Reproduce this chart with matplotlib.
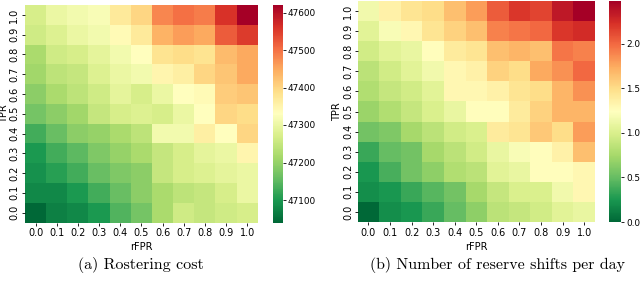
import numpy as np
import matplotlib
matplotlib.use("Agg")
import matplotlib.pyplot as plt
import seaborn as sns

rfpr = ["0.0", "0.1", "0.2", "0.3", "0.4", "0.5", "0.6", "0.7", "0.8", "0.9", "1.0"]
tpr = ["1.0", "0.9", "0.8", "0.7", "0.6", "0.5", "0.4", "0.3", "0.2", "0.1", "0.0"]

# rows: TPR 1.0 (top) -> 0.0 (bottom); cols: rFPR 0.0 -> 1.0
cost = [
    [47270, 47300, 47310, 47320, 47370, 47400, 47480, 47500, 47490, 47560, 47620],
    [47260, 47280, 47300, 47310, 47340, 47370, 47440, 47460, 47450, 47520, 47550],
    [47220, 47260, 47270, 47290, 47310, 47330, 47380, 47390, 47380, 47430, 47450],
    [47210, 47240, 47250, 47280, 47300, 47310, 47350, 47360, 47400, 47420, 47450],
    [47190, 47220, 47240, 47260, 47290, 47270, 47300, 47330, 47340, 47410, 47420],
    [47170, 47190, 47210, 47250, 47270, 47280, 47270, 47300, 47330, 47400, 47390],
    [47130, 47160, 47190, 47200, 47220, 47240, 47310, 47310, 47360, 47330, 47400],
    [47100, 47130, 47150, 47180, 47200, 47220, 47250, 47270, 47290, 47300, 47350],
    [47090, 47110, 47130, 47160, 47180, 47190, 47250, 47270, 47280, 47290, 47300],
    [47080, 47080, 47100, 47130, 47160, 47190, 47220, 47240, 47250, 47270, 47300],
    [47040, 47070, 47080, 47100, 47140, 47170, 47220, 47260, 47250, 47260, 47270],
]

reserve = [
    [1.15, 1.35, 1.45, 1.50, 1.65, 1.80, 2.05, 2.20, 2.15, 2.35, 2.48],
    [1.05, 1.20, 1.30, 1.45, 1.55, 1.65, 1.90, 1.95, 2.00, 2.20, 2.25],
    [0.95, 1.05, 1.10, 1.25, 1.40, 1.45, 1.65, 1.70, 1.65, 1.95, 1.90],
    [0.85, 0.95, 1.05, 1.15, 1.30, 1.35, 1.55, 1.50, 1.75, 1.85, 2.00],
    [0.80, 0.90, 0.95, 1.05, 1.30, 1.30, 1.35, 1.45, 1.50, 1.70, 1.85],
    [0.70, 0.80, 0.90, 1.00, 1.10, 1.25, 1.25, 1.40, 1.55, 1.70, 1.70],
    [0.55, 0.60, 0.75, 0.85, 0.95, 1.00, 1.40, 1.45, 1.60, 1.50, 1.80],
    [0.35, 0.50, 0.55, 0.75, 0.85, 0.95, 1.10, 1.20, 1.25, 1.35, 1.65],
    [0.25, 0.40, 0.55, 0.65, 0.80, 0.85, 1.05, 1.10, 1.25, 1.25, 1.30],
    [0.20, 0.25, 0.35, 0.45, 0.55, 0.75, 0.90, 1.00, 1.00, 1.15, 1.30],
    [0.00, 0.20, 0.25, 0.35, 0.50, 0.65, 0.85, 0.90, 0.95, 1.05, 1.10],
]

captions = ["(a) Rostering cost", "(b) Number of reserve shifts per day"]

W, H = 640.0, 281.0
fig = plt.figure(figsize=(6.4, 2.81), dpi=100)

def px_axes(x0, y0, x1, y1):
    return fig.add_axes([x0 / W, 1 - y1 / H, (x1 - x0) / W, (y1 - y0) / H])

ax1 = px_axes(25, 5, 257.7, 222.5)
cax1 = px_axes(272.7, 5, 282.7, 222.5)
ax2 = px_axes(357.7, 1, 595, 222)
cax2 = px_axes(609.3, 1, 620.7, 222)

tick_fs = 7
cb_fs = 6.4
for ax, cax, data, tx, ypad in [(ax1, cax1, cost, -0.067, 2.0),
                                 (ax2, cax2, reserve, -0.064, 1.0)]:
    sns.heatmap(np.array(data), ax=ax, cbar_ax=cax, cmap="RdYlGn_r",
                xticklabels=rfpr, yticklabels=tpr)
    ax.set_xlabel("rFPR", fontsize=tick_fs)
    ax.set_ylabel("TPR", fontsize=tick_fs)
    ax.tick_params(axis="x", labelsize=tick_fs, length=2.3, width=0.6, pad=2)
    ax.tick_params(axis="y", labelsize=tick_fs, length=2.3, width=0.6, pad=ypad)
    ax.set_yticklabels(tpr, rotation=90, va="center")
    ax.set_xticklabels(rfpr, rotation=0)
    ax.xaxis.set_label_coords(0.5, -0.09)
    ax.yaxis.set_label_coords(tx, 0.5)
    cax.tick_params(labelsize=cb_fs, length=2.3, width=0.6, pad=1.5)

cax1.set_yticks([47100, 47200, 47300, 47400, 47500, 47600])
cax2.set_yticks([0.0, 0.5, 1.0, 1.5, 2.0])

fig.text(141 / W, 1 - 265 / H, captions[0], ha="center", va="center",
         fontsize=11.5, family="cmr10")
fig.text(497 / W, 1 - 265 / H, captions[1], ha="center", va="center",
         fontsize=11.5, family="cmr10")

fig.savefig("out.png", dpi=100)
